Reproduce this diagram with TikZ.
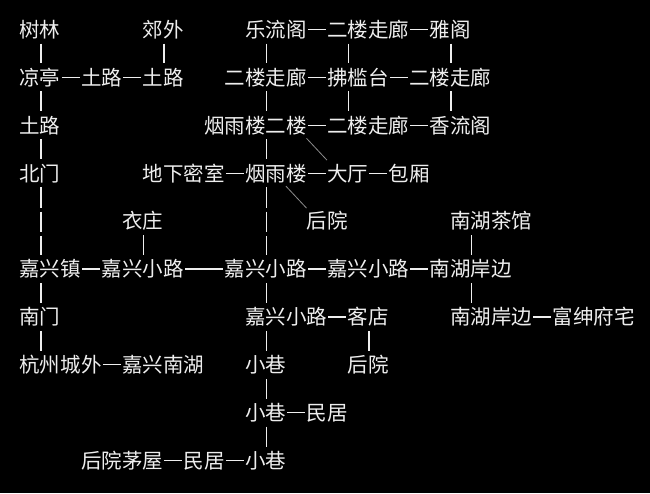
\documentclass[tikz,border=0pt]{standalone}
\usepackage{fontspec}
\newfontfamily\cjk{Noto Sans CJK SC}
\definecolor{fg}{HTML}{EEEEEE}
\definecolor{diagc}{HTML}{8C8C8C}
\newcommand\vlk[4][vlink]{\draw[#1] ([xshift=#4pt]#2.south west) -- ([xshift=#4pt]#2.south west |- #3.north);}
\begin{document}
\begin{tikzpicture}[x=1pt,y=-1pt,
  place/.style={anchor=west, inner sep=0pt, outer sep=0pt, text=fg,
    font=\cjk\fontsize{20.5}{20.5}\selectfont, text height=20.8pt, text depth=5.2pt},
  link/.style={draw=fg, line width=1.2pt, shorten <=1.3pt, shorten >=1.3pt},
  vlink/.style={draw=fg, line width=1.9pt, shorten <=1pt, shorten >=1pt},
  longlink/.style={vlink, dash pattern=on 20.5pt off 3.8pt},
  diag/.style={draw=diagc, line width=0.8pt}]
\fill[black] (0,0) rectangle (650,493);
\useasboundingbox (0,0) rectangle (650,493);
\def\ca{19.5}\def\cw{20.5}
% row 1
\node[place] (a1) at ({\ca+\cw*0},29.5) {树林};
\node[place] (a2) at ({\ca+\cw*6},29.5) {郊外};
\node[place] (a3) at ({\ca+\cw*11},29.5) {乐流阁};
\node[place] (a4) at ({\ca+\cw*15},29.5) {二楼走廊};
\node[place] (a5) at ({\ca+\cw*20},29.5) {雅阁};
% row 2
\node[place] (b1) at ({\ca+\cw*0},77.4) {凉亭};
\node[place] (b2) at ({\ca+\cw*3},77.4) {土路};
\node[place] (b3) at ({\ca+\cw*6},77.4) {土路};
\node[place] (b4) at ({\ca+\cw*10},77.4) {二楼走廊};
\node[place] (b5) at ({\ca+\cw*15},77.4) {拂槛台};
\node[place] (b6) at ({\ca+\cw*19},77.4) {二楼走廊};
% row 3
\node[place] (c1) at ({\ca+\cw*0},125.3) {土路};
\node[place] (c2) at ({\ca+\cw*9},125.3) {烟雨楼二楼};
\node[place] (c3) at ({\ca+\cw*15},125.3) {二楼走廊};
\node[place] (c4) at ({\ca+\cw*20},125.3) {香流阁};
% row 4
\node[place] (d1) at ({\ca+\cw*0},173.2) {北门};
\node[place] (d2) at ({\ca+\cw*6},173.2) {地下密室};
\node[place] (d3) at ({\ca+\cw*11},173.2) {烟雨楼};
\node[place] (d4) at ({\ca+\cw*15},173.2) {大厅};
\node[place] (d5) at ({\ca+\cw*18},173.2) {包厢};
% row 5
\node[place] (e1) at ({\ca+\cw*5},221.1) {衣庄};
\node[place] (e2) at ({\ca+\cw*14},221.1) {后院};
\node[place] (e3) at ({\ca+\cw*21},221.1) {南湖茶馆};
% row 6
\node[place] (f1) at ({\ca+\cw*0},269) {嘉兴镇};
\node[place] (f2) at ({\ca+\cw*4},269) {嘉兴小路};
\node[place] (f3) at ({\ca+\cw*10},269) {嘉兴小路};
\node[place] (f4) at ({\ca+\cw*15},269) {嘉兴小路};
\node[place] (f5) at ({\ca+\cw*20},269) {南湖岸边};
% row 7
\node[place] (g1) at ({\ca+\cw*0},316.9) {南门};
\node[place] (g2) at ({\ca+\cw*11},316.9) {嘉兴小路};
\node[place] (g3) at ({\ca+\cw*16},316.9) {客店};
\node[place] (g4) at ({\ca+\cw*21},316.9) {南湖岸边};
\node[place] (g5) at ({\ca+\cw*26},316.9) {富绅府宅};
% row 8
\node[place] (h1) at ({\ca+\cw*0},364.8) {杭州城外};
\node[place] (h2) at ({\ca+\cw*5},364.8) {嘉兴南湖};
\node[place] (h3) at ({\ca+\cw*11},364.8) {小巷};
\node[place] (h4) at ({\ca+\cw*16},364.8) {后院};
% row 9
\node[place] (i1) at ({\ca+\cw*11},412.7) {小巷};
\node[place] (i2) at ({\ca+\cw*14},412.7) {民居};
% row 10
\node[place] (j1) at ({\ca+\cw*3},460.6) {后院茅屋};
\node[place] (j2) at ({\ca+\cw*8},460.6) {民居};
\node[place] (j3) at ({\ca+\cw*11},460.6) {小巷};
% horizontal links
\foreach \p/\q in {a3/a4,a4/a5,b1/b2,b2/b3,b4/b5,b5/b6,c2/c3,c3/c4,d2/d3,d3/d4,d4/d5,
  f1/f2,f2/f3,f3/f4,f4/f5,g2/g3,g4/g5,h1/h2,i1/i2,j1/j2,j2/j3}
  \draw[link] (\p.east) -- (\q.west);
% vertical links
\vlk{a1}{b1}{21.5}
\vlk{a2}{b3}{21.5}
\vlk{a3}{b4}{21.5}
\vlk{a4}{b5}{21.5}
\vlk{a5}{b6}{21.5}
\vlk{b1}{c1}{21.5}
\vlk{b4}{c2}{42}
\vlk{b5}{c3}{21.5}
\vlk{b6}{c4}{42}
\vlk{c1}{d1}{21.5}
\vlk{c2}{d3}{62.5}
\vlk[longlink]{d1}{f1}{21.5}
\vlk[longlink]{d3}{f3}{21.5}
\vlk{e1}{f2}{21.5}
\vlk{e3}{f5}{21.5}
\vlk{f1}{g1}{21.5}
\vlk{f3}{g2}{42}
\vlk{f5}{g4}{42}
\vlk{g1}{h1}{21.5}
\vlk{g2}{h3}{21.5}
\vlk{g3}{h4}{21.5}
\vlk{h3}{i1}{21.5}
\vlk{i1}{j3}{21.5}
% diagonal links
\draw[diag] (c2.south east) -- (d4.north west);
\draw[diag] ([xshift=-20.5pt]d3.south east) -- (e2.north west);
\end{tikzpicture}
\end{document}
